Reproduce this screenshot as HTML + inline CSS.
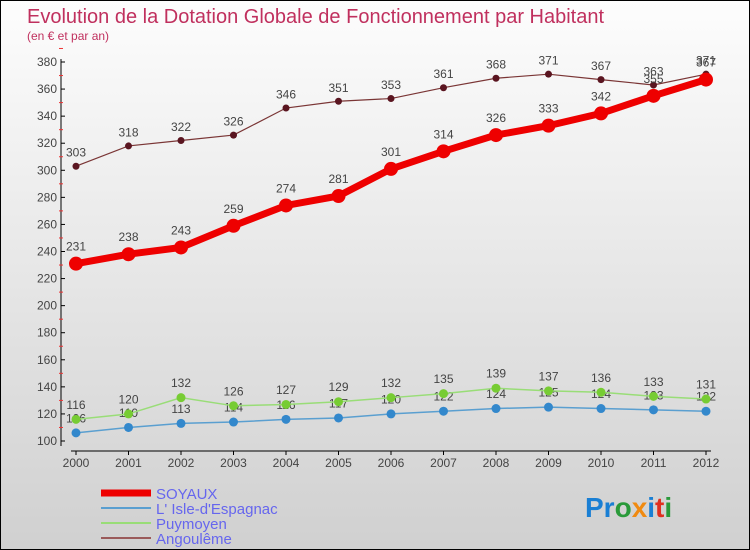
<!DOCTYPE html>
<html><head><meta charset="utf-8"><style>
body{margin:0}
#wrap{position:relative;width:748px;height:548px;border:1px solid #000;background:linear-gradient(#fdfdfd,#d0d0d0);font-family:"Liberation Sans",sans-serif;overflow:hidden}
</style></head><body>
<div id="wrap">
<svg id="chart" width="748" height="548">
<text x="26" y="22" font-size="20" fill="#c0305e">Evolution de la Dotation Globale de Fonctionnement par Habitant</text>
<text x="26" y="39" font-size="12" fill="#c0305e">(en € et par an)</text>
<g id="axes"></g><g id="series"></g><g id="legend"></g>
<text x="584" y="516" font-size="28" font-weight="bold"><tspan fill="#1a7fd4">Pr</tspan><tspan fill="#2a9a3a">o</tspan><tspan fill="#f08a10">x</tspan><tspan fill="#1a7fd4">i</tspan><tspan fill="#e03020">t</tspan><tspan fill="#2a9a3a">i</tspan></text>
</svg>
</div>
<script>
const years=[2000,2001,2002,2003,2004,2005,2006,2007,2008,2009,2010,2011,2012];
const soyaux=[231,238,243,259,274,281,301,314,326,333,342,355,367];
const isle=[106,110,113,114,116,117,120,122,124,125,124,123,122];
const puymoyen=[116,120,132,126,127,129,132,135,139,137,136,133,131];
const angouleme=[303,318,322,326,346,351,353,361,368,371,367,363,371];
const yTicks=[100,120,140,160,180,200,220,240,260,280,300,320,340,360,380];
const NS="http://www.w3.org/2000/svg";
const xs=i=>75+i*52.5;
const ys=v=>440-(v-100)*(379/280);
function mk(tag,attrs,parent){const e=document.createElementNS(NS,tag);for(const k in attrs)e.setAttribute(k,attrs[k]);parent.appendChild(e);return e;}
const axes=document.getElementById('axes');
let e=mk('line',{x1:60,y1:58,x2:60,y2:445,stroke:'#000'},axes);


e=mk('line',{x1:70,y1:450,x2:710,y2:450,stroke:'#000'},axes);


yTicks.forEach(v=>{
 mk('line',{x1:60,y1:ys(v),x2:64,y2:ys(v),stroke:'#000'},axes);
 mk('line',{x1:58,y1:ys(v+10),x2:62,y2:ys(v+10),stroke:'#e33'},axes);
 const t=mk('text',{x:56,y:ys(v)+4,'font-size':12,'text-anchor':'end',fill:'#444'},axes);
 t.textContent=v;
 
 
});
years.forEach((y,i)=>{
 mk('line',{x1:xs(i),y1:450,x2:xs(i),y2:454,stroke:'#000'},axes);
 const t=mk('text',{x:xs(i),y:466,'font-size':12,'text-anchor':'middle',fill:'#444'},axes);
 t.textContent=y;
 
 
});
const series=[
 {name:'angouleme',data:angouleme,color:'#7a3535',dot:'#5a1520',w:1.2,r:3.5},
 {name:'isle-d-espagnac',data:isle,color:'#5a9fd0',dot:'#3388cc',w:1.5,r:4.5},
 {name:'puymoyen',data:puymoyen,color:'#99dd77',dot:'#77cc33',w:1.5,r:4.5},
 {name:'soyaux',data:soyaux,color:'#ee0000',dot:'#ee0000',w:7,r:7}
];
const sg=document.getElementById('series');
series.forEach(s=>{
 const g=mk('g',{},sg);
 
 
 const p=mk('polyline',{points:s.data.map((v,i)=>xs(i)+','+ys(v)).join(' '),fill:'none',stroke:s.color,'stroke-width':s.w},g);
 
 
 s.data.forEach((v,i)=>{
  const c=mk('circle',{cx:xs(i),cy:ys(v),r:s.r,fill:s.dot},g);
  
  
  const t=mk('text',{x:xs(i),y:ys(v)-(s.r+6),'font-size':12,'text-anchor':'middle',fill:'#444'},g);
  t.textContent=v;
  
  
 });
});
const lg=document.getElementById('legend');
const leg=[['SOYAUX','#ee0000',7],["L' Isle-d'Espagnac",'#5a9fd0',2],['Puymoyen','#99dd77',2],['Angoulême','#9a5a5a',2]];
leg.forEach((l,i)=>{
 const y=492+i*15;
 const g=mk('g',{},lg);
 
 
 mk('line',{x1:100,y1:y,x2:150,y2:y,stroke:l[1],'stroke-width':l[2]},g);
 const t=mk('text',{x:155,y:y+6,'font-size':15,fill:'#6666ee'},g);
 t.textContent=l[0];
});
</script>
</body></html>
